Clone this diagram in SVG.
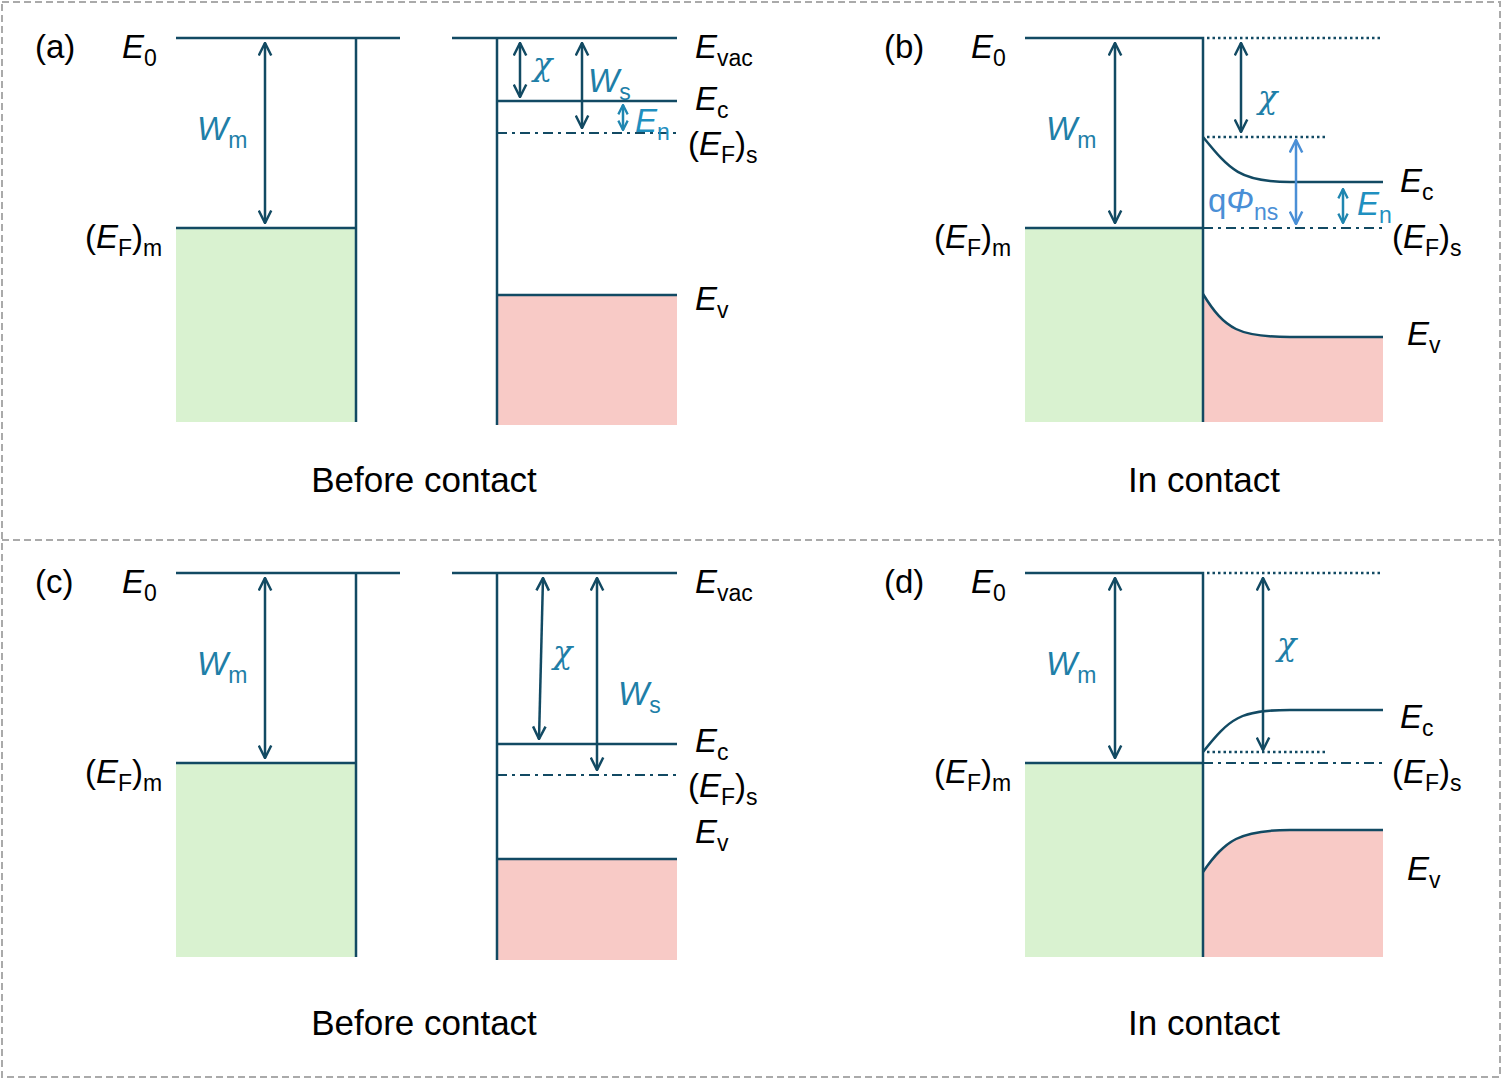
<svg xmlns="http://www.w3.org/2000/svg" width="1503" height="1080" viewBox="0 0 1503 1080">
<defs>
<style>
.ln{stroke:#124a63;stroke-width:2.5;fill:none}
.dd{stroke:#124a63;stroke-width:2;fill:none;stroke-dasharray:10 5 3 5}
.dt{stroke:#124a63;stroke-width:2.5;fill:none;stroke-dasharray:2.5 3}
.ar{stroke:#124a63;stroke-width:2.5;fill:none;marker-start:url(#ah);marker-end:url(#ah)}
.ar2{stroke:#1f86b0;stroke-width:2.5;fill:none;marker-start:url(#ah2);marker-end:url(#ah2)}
.ar3{stroke:#4a8fd6;stroke-width:2.5;fill:none;marker-start:url(#ah3);marker-end:url(#ah3)}
text{font-family:"Liberation Sans",Arial,sans-serif;font-size:33px;fill:#000}
.i{font-style:italic}
.s{font-size:23px;font-style:normal}
.c1{fill:#1f7fa8}
.c2{fill:#4a8fd6}
.cap{font-size:35px;text-anchor:middle}
.g{fill:#d9f2d0}
.p{fill:#f8cac6}
.chi{font-family:"DejaVu Serif",serif;font-style:italic;font-size:32px}
</style>
<marker id="ah" viewBox="0 0 12 12" refX="11" refY="6" markerWidth="6" markerHeight="6" orient="auto-start-reverse" markerUnits="strokeWidth"><path d="M1,1 L11,6 L1,11" fill="none" stroke="#124a63" stroke-width="2"/></marker>
<marker id="ah2" viewBox="0 0 12 12" refX="11" refY="6" markerWidth="4.5" markerHeight="4.5" orient="auto-start-reverse" markerUnits="strokeWidth"><path d="M1,1 L11,6 L1,11" fill="none" stroke="#1f86b0" stroke-width="2.4"/></marker>
<marker id="ah3" viewBox="0 0 12 12" refX="11" refY="6" markerWidth="6" markerHeight="6" orient="auto-start-reverse" markerUnits="strokeWidth"><path d="M1,1 L11,6 L1,11" fill="none" stroke="#4a8fd6" stroke-width="2"/></marker>
</defs>
<rect x="2" y="2" width="1498" height="1075" fill="#fff" stroke="#aaa" stroke-width="2" stroke-dasharray="7 4"/>
<line x1="2" y1="540" x2="1500" y2="540" stroke="#aaa" stroke-width="2" stroke-dasharray="7 4"/>

<g id="panel-a">
<rect class="g" x="176" y="228" width="180" height="194"/>
<rect class="p" x="497" y="295" width="180" height="130"/>
<path class="ln" d="M176,38H400M356,38V422M176,228H356M452,38H677M497,38V425M497,101H677M497,295H677"/>
<path class="dd" d="M497,133H677"/>
<text x="35" y="58">(a)</text>
<text x="122" y="58" class="i">E<tspan class="s" dy="8">0</tspan></text>
<text x="197" y="140" class="i c1">W<tspan class="s c1" dy="8">m</tspan></text>
<text x="85" y="248">(<tspan class="i">E</tspan><tspan class="s" dy="8">F</tspan><tspan dy="-8">)</tspan><tspan class="s" dy="8">m</tspan></text>
<text x="695" y="58" class="i">E<tspan class="s" dy="8">vac</tspan></text>
<text x="695" y="110" class="i">E<tspan class="s" dy="8">c</tspan></text>
<text x="688" y="155">(<tspan class="i">E</tspan><tspan class="s" dy="8">F</tspan><tspan dy="-8">)</tspan><tspan class="s" dy="8">s</tspan></text>
<text x="695" y="310" class="i">E<tspan class="s" dy="8">v</tspan></text>
<text x="533" y="75" class="chi c1">χ</text>
<text x="588" y="92" class="i c1">W<tspan class="s c1" dy="8">s</tspan></text>
<text x="635" y="132" class="i" style="fill:#1f90c0">E<tspan class="s" dy="8" style="fill:#1f90c0">n</tspan></text>
<text x="424" y="492" class="cap">Before contact</text>
</g>

<g id="panel-b">
<rect class="g" x="1025" y="228" width="178" height="194"/>
<path class="p" d="M1203,294 C1225,330 1240,337 1290,337 H1383 V422 H1203Z"/>
<path class="ln" d="M1025,38H1203V422M1025,228H1203"/>
<path class="ln" d="M1203,137 C1230,170 1240,182 1290,182 H1383"/>
<path class="ln" d="M1203,294 C1225,330 1240,337 1290,337 H1383"/>
<path class="dt" d="M1207,38H1380M1207,137H1325"/>
<path class="dd" d="M1203,228H1383"/>
<text x="884" y="58">(b)</text>
<text x="971" y="58" class="i">E<tspan class="s" dy="8">0</tspan></text>
<text x="1046" y="140" class="i c1">W<tspan class="s c1" dy="8">m</tspan></text>
<text x="934" y="248">(<tspan class="i">E</tspan><tspan class="s" dy="8">F</tspan><tspan dy="-8">)</tspan><tspan class="s" dy="8">m</tspan></text>
<text x="1258" y="108" class="chi c1">χ</text>
<text x="1208" y="212" class="c2">q<tspan class="i c2">Φ</tspan><tspan class="s c2" dy="8">ns</tspan></text>
<text x="1357" y="215" class="i" style="fill:#1f90c0">E<tspan class="s" dy="8" style="fill:#1f90c0">n</tspan></text>
<text x="1400" y="192" class="i">E<tspan class="s" dy="8">c</tspan></text>
<text x="1392" y="248">(<tspan class="i">E</tspan><tspan class="s" dy="8">F</tspan><tspan dy="-8">)</tspan><tspan class="s" dy="8">s</tspan></text>
<text x="1407" y="345" class="i">E<tspan class="s" dy="8">v</tspan></text>
<text x="1204" y="492" class="cap">In contact</text>
</g>

<g id="panel-c">
<rect class="g" x="176" y="763" width="180" height="194"/>
<rect class="p" x="497" y="859" width="180" height="101"/>
<path class="ln" d="M176,573H400M356,573V957M176,763H356M452,573H677M497,573V960M497,744H677M497,859H677"/>
<path class="dd" d="M497,775H677"/>
<text x="35" y="593">(c)</text>
<text x="122" y="593" class="i">E<tspan class="s" dy="8">0</tspan></text>
<text x="197" y="675" class="i c1">W<tspan class="s c1" dy="8">m</tspan></text>
<text x="85" y="783">(<tspan class="i">E</tspan><tspan class="s" dy="8">F</tspan><tspan dy="-8">)</tspan><tspan class="s" dy="8">m</tspan></text>
<text x="695" y="593" class="i">E<tspan class="s" dy="8">vac</tspan></text>
<text x="553" y="663" class="chi c1">χ</text>
<text x="618" y="705" class="i c1">W<tspan class="s c1" dy="8">s</tspan></text>
<text x="695" y="752" class="i">E<tspan class="s" dy="8">c</tspan></text>
<text x="688" y="797">(<tspan class="i">E</tspan><tspan class="s" dy="8">F</tspan><tspan dy="-8">)</tspan><tspan class="s" dy="8">s</tspan></text>
<text x="695" y="843" class="i">E<tspan class="s" dy="8">v</tspan></text>
<text x="424" y="1035" class="cap">Before contact</text>
</g>

<g id="panel-d">
<rect class="g" x="1025" y="763" width="178" height="194"/>
<path class="p" d="M1203,872 C1225,840 1240,830 1290,830 H1383 V957 H1203Z"/>
<path class="ln" d="M1025,573H1203V957M1025,763H1203"/>
<path class="ln" d="M1203,752 C1230,718 1240,710 1290,710 H1383"/>
<path class="ln" d="M1203,872 C1225,840 1240,830 1290,830 H1383"/>
<path class="dt" d="M1207,573H1380M1207,752H1325"/>
<path class="dd" d="M1203,763H1383"/>
<text x="884" y="593">(d)</text>
<text x="971" y="593" class="i">E<tspan class="s" dy="8">0</tspan></text>
<text x="1046" y="675" class="i c1">W<tspan class="s c1" dy="8">m</tspan></text>
<text x="934" y="783">(<tspan class="i">E</tspan><tspan class="s" dy="8">F</tspan><tspan dy="-8">)</tspan><tspan class="s" dy="8">m</tspan></text>
<text x="1277" y="655" class="chi c1">χ</text>
<text x="1400" y="728" class="i">E<tspan class="s" dy="8">c</tspan></text>
<text x="1392" y="783">(<tspan class="i">E</tspan><tspan class="s" dy="8">F</tspan><tspan dy="-8">)</tspan><tspan class="s" dy="8">s</tspan></text>
<text x="1407" y="880" class="i">E<tspan class="s" dy="8">v</tspan></text>
<text x="1204" y="1035" class="cap">In contact</text>
</g>

<g id="connectors">
<line class="ar" x1="265" y1="43" x2="265" y2="223"/>
<line class="ar" x1="520" y1="43" x2="520" y2="97"/>
<line class="ar" x1="582" y1="43" x2="582" y2="128"/>
<line class="ar2" x1="623" y1="105" x2="623" y2="130"/>
<line class="ar" x1="1115" y1="43" x2="1115" y2="223"/>
<line class="ar" x1="1241" y1="43" x2="1241" y2="132"/>
<line class="ar3" x1="1296" y1="140" x2="1296" y2="224"/>
<line class="ar2" x1="1343" y1="189" x2="1343" y2="223"/>
<line class="ar" x1="265" y1="578" x2="265" y2="758"/>
<line class="ar" x1="543" y1="578" x2="539" y2="739"/>
<line class="ar" x1="597" y1="578" x2="597" y2="770"/>
<line class="ar" x1="1115" y1="578" x2="1115" y2="758"/>
<line class="ar" x1="1263" y1="578" x2="1263" y2="750"/>
</g>
</svg>
